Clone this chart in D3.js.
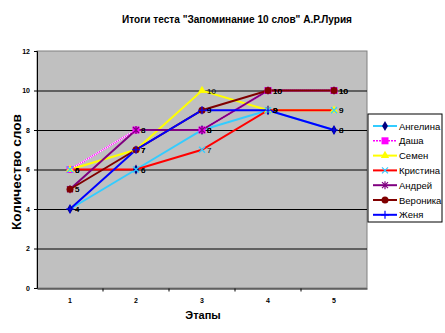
<!DOCTYPE html>
<head>
	<meta charset="utf-8">
	<title>Тест Лурия</title>
</head>
<style>
body { margin: 0; background: #fff; }
text { font-family: "Liberation Sans", Arial, sans-serif; }
.grid line { stroke: #000; stroke-width: 1; }
.tick-lbl { font-size: 7px; font-weight: bold; }
.lbl { font-size: 8px; }
</style>
<svg id="svg" width="445" height="333"></svg>
<script src="https://cdn.jsdelivr.net/npm/d3@7"></script>
<script>

var stages = [1, 2, 3, 4, 5];
var yTicks = [0, 2, 4, 6, 8, 10, 12];

var angelina = [4, 6, 8, 9, 8];
var dasha    = [6, 8, 8, 10, 10];
var semen    = [6, 7, 10, 9, 9];
var kristina = [6, 6, 7, 9, 9];
var andrey   = [5, 8, 8, 10, 10];
var veronika = [5, 7, 9, 10, 10];
var zhenya   = [4, 7, 9, 9, 8];

var names = ["Ангелина", "Даша", "Семен", "Кристина", "Андрей", "Вероника", "Женя"];

var series = [
  {name: names[0], values: angelina, line: "#33ccff", mark: "#000080", shape: "diamond"},
  {name: names[1], values: dasha,    line: "#ff00ff", mark: "#ff00ff", shape: "square", dotted: true},
  {name: names[2], values: semen,    line: "#ffff00", mark: "#ffff00", shape: "triangle"},
  {name: names[3], values: kristina, line: "#ff0000", mark: "#33ccff", shape: "x"},
  {name: names[4], values: andrey,   line: "#800080", mark: "#800080", shape: "star"},
  {name: names[5], values: veronika, line: "#800000", mark: "#800000", shape: "circle"},
  {name: names[6], values: zhenya,   line: "#0000ff", mark: "#0000ff", shape: "plus"}
];

var svg = d3.select("svg");
var pLeft = 37, pRight = 367, pTop = 51, pBottom = 288;

var x = d3.scaleBand().domain(stages).range([pLeft, pRight]);
var y = d3.scaleLinear().domain([0, 12]).range([pBottom, pTop]);
var cx = function(d) { return x(d) + x.bandwidth() / 2; };

// title
svg.append("text")
    .attr("x", 237).attr("y", 23)
    .attr("text-anchor", "middle")
    .attr("textLength", 230).attr("lengthAdjust", "spacingAndGlyphs")
    .style("font-size", "10px").style("font-weight", "bold")
    .text("Итоги теста \"Запоминание 10 слов\" А.Р.Лурия");

// plot area
svg.append("rect")
    .attr("x", pLeft).attr("y", pTop)
    .attr("width", pRight - pLeft).attr("height", pBottom - pTop)
    .attr("fill", "#c0c0c0")
    .attr("stroke", "#808080").attr("stroke-width", 1);

svg.append("g").attr("class", "grid")
  .selectAll("line")
  .data(yTicks.slice(1, -1))
  .enter().append("line")
    .attr("x1", pLeft).attr("x2", pRight)
    .attr("y1", function(d) { return y(d) + 0.5; })
    .attr("y2", function(d) { return y(d) + 0.5; });

// axes
var yAxis = d3.axisLeft(y).tickValues(yTicks).tickSize(3).tickPadding(4);
var gy = svg.append("g").attr("transform", "translate(" + pLeft + ",0)").call(yAxis);
gy.selectAll("text").attr("class", "tick-lbl").attr("font-family", null).attr("font-size", null);
gy.selectAll("line, path").attr("stroke", "#000");

var xAxis = d3.axisBottom(x).tickSize(0).tickPadding(10);
var gx = svg.append("g").attr("transform", "translate(0," + (pBottom + 0.5) + ")").call(xAxis);
gx.selectAll("text").attr("class", "tick-lbl").attr("font-family", null).attr("font-size", null);
gx.select("path").attr("stroke", "#000");
gx.selectAll(".sep")
  .data(stages.slice(1))
  .enter().append("line")
    .attr("x1", function(d) { return x(d); }).attr("x2", function(d) { return x(d); })
    .attr("y1", 0).attr("y2", 3).attr("stroke", "#000");

svg.append("text")
    .attr("x", 203).attr("y", 319)
    .attr("text-anchor", "middle")
    .style("font-size", "11px").style("font-weight", "bold")
    .text("Этапы");

svg.append("text")
    .attr("transform", "translate(21,172) rotate(-90)")
    .attr("text-anchor", "middle")
    .attr("textLength", 116).attr("lengthAdjust", "spacingAndGlyphs")
    .style("font-size", "12px").style("font-weight", "bold")
    .text("Количество слов");

// markers
function marker(g, s, px, py) {
  var m = s.mark;
  if (s.shape == "diamond")
    g.append("path").attr("d", d3.symbol(d3.symbolDiamond, 30)()).attr("transform", "translate(" + px + "," + py + ")").attr("fill", m);
  else if (s.shape == "square")
    g.append("rect").attr("x", px - 3.5).attr("y", py - 3.5).attr("width", 7).attr("height", 7).attr("fill", m);
  else if (s.shape == "triangle")
    g.append("path").attr("d", d3.symbol(d3.symbolTriangle, 30)()).attr("transform", "translate(" + px + "," + py + ")").attr("fill", m);
  else if (s.shape == "circle")
    g.append("circle").attr("cx", px).attr("cy", py).attr("r", 3.5).attr("fill", m);
  else if (s.shape == "x")
    g.append("path").attr("d", "M" + (px - 3) + "," + (py - 3) + "L" + (px + 3) + "," + (py + 3) + "M" + (px + 3) + "," + (py - 3) + "L" + (px - 3) + "," + (py + 3)).attr("stroke", m).attr("stroke-width", 1.2);
  else if (s.shape == "star")
    g.append("path").attr("d", "M" + (px - 3) + "," + (py - 3) + "L" + (px + 3) + "," + (py + 3) + "M" + (px + 3) + "," + (py - 3) + "L" + (px - 3) + "," + (py + 3) + "M" + px + "," + (py - 4) + "L" + px + "," + (py + 4)).attr("stroke", m).attr("stroke-width", 1.2);
  else if (s.shape == "plus")
    g.append("path").attr("d", "M" + (px - 4) + "," + py + "L" + (px + 4) + "," + py + "M" + px + "," + (py - 4) + "L" + px + "," + (py + 4)).attr("stroke", m).attr("stroke-width", 1.2);
}

var line = d3.line()
    .x(function(d, i) { return cx(stages[i]); })
    .y(function(d) { return y(d); });

// lines first, then markers on top
var linesG = svg.append("g");
series.forEach(function(s) {
  if (s.dotted) {
    linesG.append("path").attr("d", line(s.values)).attr("fill", "none").attr("stroke", "#fff").attr("stroke-width", 2);
    linesG.append("path").attr("d", line(s.values)).attr("fill", "none").attr("stroke", s.line).attr("stroke-width", 2).attr("stroke-dasharray", "1,1");
  } else {
    linesG.append("path").attr("d", line(s.values)).attr("fill", "none").attr("stroke", s.line).attr("stroke-width", 2);
  }
});
var marksG = svg.append("g");
series.forEach(function(s) {
  s.values.forEach(function(v, i) {
    marker(marksG, s, cx(stages[i]), y(v));
  });
});

// data labels
series.forEach(function(s) {
  svg.append("g").selectAll("text")
    .data(s.values)
    .enter().append("text")
      .attr("class", "lbl")
      .attr("x", function(d, i) { return cx(stages[i]) + 5; })
      .attr("y", function(d) { return y(d) + 3; })
      .text(function(d) { return d; });
});

// legend
var lg = svg.append("g").attr("transform", "translate(368,114)");
lg.append("rect").attr("x", 0).attr("y", 0).attr("width", 74).attr("height", 108)
    .attr("fill", "#fff").attr("stroke", "#000");
series.forEach(function(s, i) {
  var ly = 12 + i * 14.8;
  var g = lg.append("g");
  if (s.dotted) {
    g.append("line").attr("x1", 5).attr("x2", 29).attr("y1", ly).attr("y2", ly).attr("stroke", s.line).attr("stroke-width", 1.5).attr("stroke-dasharray", "2,1");
  } else {
    g.append("line").attr("x1", 5).attr("x2", 29).attr("y1", ly).attr("y2", ly).attr("stroke", s.line).attr("stroke-width", 2);
  }
  marker(g, s, 17, ly);
  g.append("text").attr("x", 31).attr("y", ly + 3.5).style("font-size", "9.5px").text(s.name);
});

</script>
